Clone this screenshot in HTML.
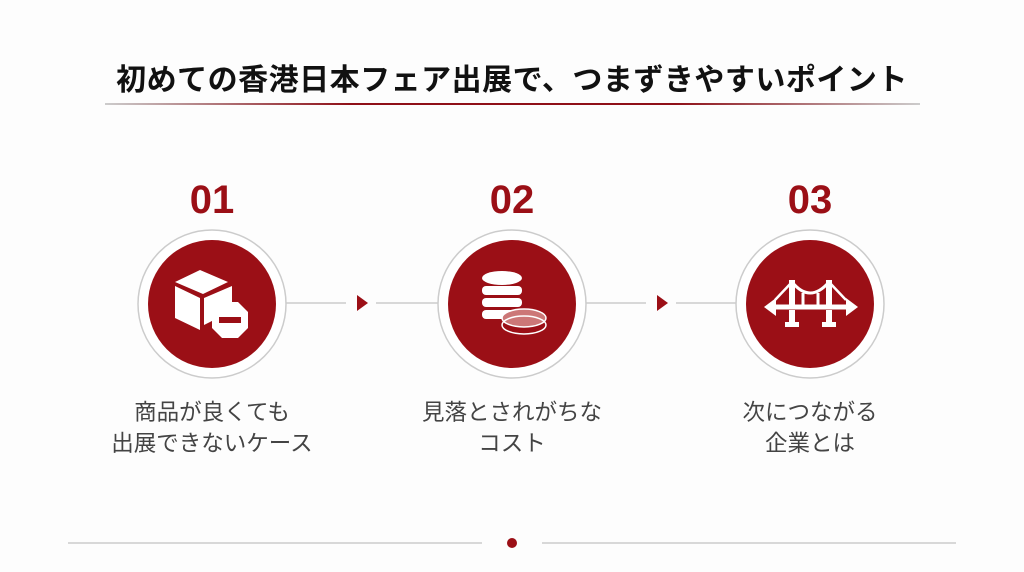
<!DOCTYPE html>
<html><head><meta charset="utf-8"><style>
body{margin:0;width:1024px;height:572px;background:#fdfdfd;font-family:"Liberation Sans","Noto Sans CJK JP",sans-serif;position:relative;overflow:hidden}
.t{position:absolute;left:0;width:1024px;top:55px;text-align:center;font-size:30px;letter-spacing:0.5px;font-weight:bold;color:#111;white-space:nowrap}
.u{position:absolute;left:105px;width:815px;top:103px;height:2px;background:linear-gradient(90deg,#ccc,#8f1018 30%,#8f1018 70%,#ccc)}
.n{position:absolute;width:120px;text-align:center;top:178px;font-size:40px;font-weight:bold;color:#9b0f16}
.lb{position:absolute;width:280px;text-align:center;top:397px;font-size:22.5px;line-height:31px;color:#444}
</style></head><body>
<div class="t">初めての香港日本フェア出展で、つまずきやすいポイント</div>
<div class="u"></div>
<div class="n" style="left:152px">01</div>
<div class="n" style="left:452px">02</div>
<div class="n" style="left:750px">03</div>
<svg width="1024" height="572" style="position:absolute;left:0;top:0">
<g stroke="#ccc" stroke-width="1.5">
<line x1="286" y1="303" x2="346" y2="303"/><line x1="376" y1="303" x2="438" y2="303"/>
<line x1="586" y1="303" x2="646" y2="303"/><line x1="676" y1="303" x2="736" y2="303"/>
<line x1="68" y1="543" x2="482" y2="543"/><line x1="542" y1="543" x2="956" y2="543"/>
</g>
<polygon points="357,295 357,311 368,303" fill="#9b0f16"/>
<polygon points="657,295 657,311 668,303" fill="#9b0f16"/>
<circle cx="512" cy="543" r="5" fill="#9b0f16"/>
<g fill="#fff" stroke="#ccc" stroke-width="1.5">
<circle cx="212" cy="304" r="74"/><circle cx="512" cy="304" r="74"/><circle cx="810" cy="304" r="74"/></g>
<g fill="#9b0f16"><circle cx="212" cy="304" r="64"/><circle cx="512" cy="304" r="64"/><circle cx="810" cy="304" r="64"/></g>
<g fill="#fff">
<polygon points="175,282 200,270 228,282 203,294"/>
<polygon points="175,286 200,298 200,330 175,318"/>
<polygon points="204,298 232,286 232,310 210,322 204,325"/>
<polygon points="222,302 238,302 248,312 248,328 238,338 222,338 212,328 212,312"/>
</g>
<rect x="219" y="317" width="22" height="6" fill="#9b0f16"/>
<g fill="#fff">
<ellipse cx="502" cy="278" rx="20" ry="7"/>
<rect x="482" y="286" width="40" height="9" rx="4"/>
<rect x="482" y="298" width="40" height="9" rx="4"/>
<rect x="482" y="310" width="40" height="9" rx="4"/>
</g>
<ellipse cx="524" cy="318" rx="22" ry="9" fill="#c77" stroke="#fff" stroke-width="1.5"/>
<ellipse cx="524" cy="325" rx="22" ry="9" fill="none" stroke="#fff" stroke-width="1.5"/>
<g fill="#fff" stroke="#fff">
<line x1="770" y1="307" x2="852" y2="307" stroke-width="5"/>
<polygon points="764,307 776,298 776,316" stroke="none"/>
<polygon points="858,307 846,298 846,316" stroke="none"/>
<rect x="789" y="280" width="6" height="26" stroke="none"/><rect x="826" y="280" width="6" height="26" stroke="none"/>
<path d="M792 282 Q810 304 829 282" fill="none" stroke-width="3"/>
<path d="M792 282 L775 300 M829 282 L846 300" fill="none" stroke-width="2.5"/>
<line x1="803" y1="293" x2="803" y2="305" stroke-width="3"/><line x1="818" y1="293" x2="818" y2="305" stroke-width="3"/>
<rect x="789" y="310" width="6" height="14" stroke="none"/><rect x="826" y="310" width="6" height="14" stroke="none"/>
<rect x="785" y="322" width="14" height="5" stroke="none"/><rect x="822" y="322" width="14" height="5" stroke="none"/>
</g>
</svg>
<div class="lb" style="left:72px">商品が良くても<br>出展できないケース</div>
<div class="lb" style="left:372px">見落とされがちな<br>コスト</div>
<div class="lb" style="left:670px">次につながる<br>企業とは</div>
</body></html>
